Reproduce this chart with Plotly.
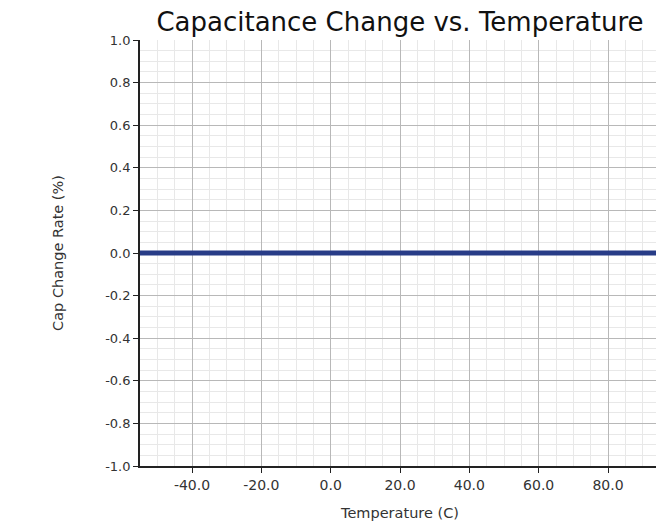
import plotly.graph_objects as go

temperature = [-55, -50, -45, -40, -35, -30, -25, -20, -15, -10, -5, 0, 5, 10, 15, 20, 25,
               30, 35, 40, 45, 50, 55, 60, 65, 70, 75, 80, 85, 90, 95]
cap_change = [0.0] * len(temperature)

x_ticks = [-40, -20, 0, 20, 40, 60, 80]
y_ticks = [-1.0, -0.8, -0.6, -0.4, -0.2, 0.0, 0.2, 0.4, 0.6, 0.8, 1.0]

fig = go.Figure()
fig.add_trace(go.Scatter(
    x=temperature, y=cap_change, mode="lines",
    line=dict(color="#283c87", width=5), showlegend=False,
))

font = "DejaVu Sans, Verdana, sans-serif"
fig.update_layout(
    width=656, height=516,
    margin=dict(l=132, r=4, t=32, b=58),
    paper_bgcolor="white", plot_bgcolor="white",
    font=dict(family=font, size=13, color="#333333"),
    title=dict(text="Capacitance Change vs. Temperature", x=0.5, xref="paper",
               xanchor="center", y=1 - 14 / 516, yanchor="middle",
               font=dict(size=26, color="#111111", family=font)),
)
fig.update_xaxes(
    range=[-55, 95], tickvals=x_ticks, ticktext=[f"{v:.1f}" for v in x_ticks],
    ticks="outside", ticklen=5, tickcolor="#222222",
    tickfont=dict(size=14),
    showline=True, linecolor="#222222", linewidth=1.5,
    showgrid=True, gridcolor="#b8b8b8", gridwidth=1,
    minor=dict(dtick=5, tick0=0, showgrid=True, gridcolor="#e8e8e8", gridwidth=1),
    zeroline=False,
    title=dict(text="Temperature (C)", standoff=16, font=dict(size=14.5)),
)
fig.update_yaxes(
    range=[-1.0, 1.0], tickvals=y_ticks, ticktext=[f"{v:.1f}" for v in y_ticks],
    ticks="outside", ticklen=5, tickcolor="#222222",
    tickfont=dict(size=13),
    showline=True, linecolor="#222222", linewidth=1.8,
    showgrid=True, gridcolor="#b8b8b8", gridwidth=1,
    minor=dict(dtick=0.05, tick0=0, showgrid=True, gridcolor="#e8e8e8", gridwidth=1),
    zeroline=False,
    title=dict(text="Cap Change Rate (%)", standoff=38, font=dict(size=14.5)),
)

fig.write_html("out.html")
